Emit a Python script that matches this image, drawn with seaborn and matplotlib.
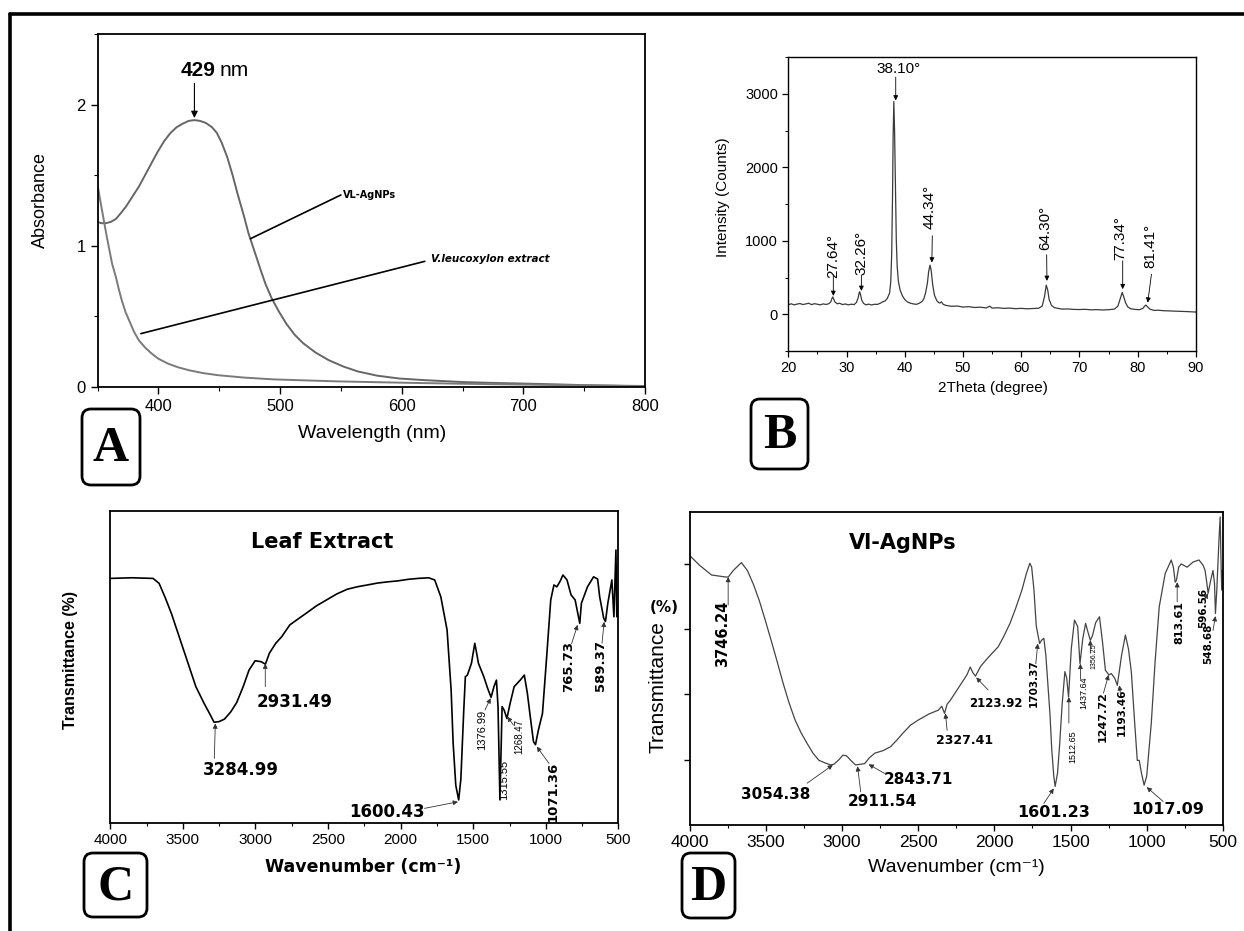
import matplotlib
matplotlib.use("Agg")
import matplotlib.pyplot as plt
import seaborn as sns
from matplotlib.patches import FancyBboxPatch
from matplotlib.lines import Line2D
from matplotlib.transforms import IdentityTransform
from matplotlib.ticker import MultipleLocator, NullLocator

# ---------------- data ----------------
# A: UV-vis
uv_wl_np = [350, 353, 357, 361, 365, 369, 373.5, 378, 384, 389, 394, 399, 404.6, 410, 415, 420,
            425, 429.6, 434, 439, 444, 448, 452, 456.5, 461, 465, 470, 474, 479, 484, 488, 493,
            499, 505, 512, 519, 529, 540, 552, 564, 580, 598, 620, 650, 675, 702, 730, 754,
            780, 800]
uv_abs_np = [1.17, 1.16, 1.16, 1.17, 1.19, 1.23, 1.28, 1.34, 1.42, 1.50, 1.58, 1.66, 1.74, 1.80,
             1.84, 1.865, 1.885, 1.89, 1.885, 1.87, 1.84, 1.80, 1.73, 1.63, 1.50, 1.37, 1.22,
             1.09, 0.96, 0.83, 0.73, 0.63, 0.535, 0.45, 0.37, 0.31, 0.245, 0.19, 0.145, 0.11,
             0.08, 0.06, 0.048, 0.035, 0.029, 0.024, 0.018, 0.012, 0.009, 0.007]
uv_wl_ext = [350, 352, 354.5, 357, 359.7, 362, 365, 367.5, 370, 373, 377, 380, 384, 389, 394,
             400, 408, 416, 425.4, 437, 449.6, 470, 494.6, 520, 546.5, 580, 615.6, 650, 684.8,
             720, 753.9, 780, 800]
uv_abs_ext = [1.43, 1.33, 1.21, 1.09, 0.97, 0.87, 0.78, 0.69, 0.61, 0.53, 0.45, 0.39, 0.33,
              0.28, 0.24, 0.20, 0.165, 0.14, 0.118, 0.098, 0.083, 0.067, 0.054, 0.047, 0.040,
              0.034, 0.028, 0.023, 0.019, 0.015, 0.012, 0.008, 0.005]

# B: XRD
xrd_2theta = [20.0, 20.5, 21.0, 21.5, 22.0, 22.5, 23.0, 23.5, 24.0, 24.5, 25.0, 25.5, 26.0, 26.5,
              27.0, 27.3, 27.5, 27.64, 27.8, 28.0, 28.4, 28.8, 29.3, 29.8, 30.3, 30.8, 31.3, 31.7,
              32.0, 32.15, 32.26, 32.4, 32.6, 32.9, 33.3, 33.8, 34.3, 34.8, 35.3, 35.8, 36.2, 36.6,
              37.0, 37.4, 37.6, 37.75, 37.9, 38.0, 38.12, 38.25, 38.4, 38.55, 38.7, 38.9, 39.2,
              39.6, 40.0, 40.5, 41.0, 41.5, 42.0, 42.5, 43.0, 43.3, 43.6, 43.9, 44.1, 44.34, 44.55,
              44.8, 45.1, 45.5, 45.8, 46.0, 46.3, 46.6, 47.0, 47.5, 48.0, 49.0, 50.0, 51.0, 52.0,
              53.0, 54.0, 54.6, 55.0, 56.0, 57.0, 58.0, 59.0, 60.0, 61.0, 62.0, 63.0, 63.6, 64.0,
              64.3, 64.55, 64.8, 65.2, 65.7, 66.3, 67.0, 68.0, 69.0, 70.0, 71.0, 72.0, 73.0, 74.0,
              75.0, 76.0, 76.6, 77.0, 77.34, 77.6, 77.9, 78.3, 78.8, 79.5, 80.3, 80.9, 81.2, 81.41,
              81.7, 82.1, 82.8, 83.5, 84.5, 85.5, 86.5, 87.5, 88.5, 89.3, 90.0]
xrd_counts = [130, 142, 128, 138, 146, 132, 140, 150, 131, 144, 136, 128, 141, 133,
              145, 170, 215, 236, 205, 168, 142, 150, 132, 140, 128, 137, 131, 160,
              225, 285, 305, 270, 195, 150, 128, 138, 126, 136, 134, 150, 168, 180,
              215, 290, 450, 800, 1600, 2400, 2896, 2500, 1700, 1000, 650, 450, 330,
              250, 200, 165, 150, 140, 135, 150, 175, 215, 300, 430, 580, 668, 590,
              400, 260, 185, 160, 152, 168, 135, 122, 115, 108, 112, 98, 103, 92,
              96, 86, 110, 84, 88, 80, 84, 76, 80, 74, 78, 82, 110, 240,
              396, 330, 200, 120, 90, 80, 70, 72, 66, 64, 67, 60, 63, 58,
              62, 70, 110, 210, 296, 240, 160, 100, 75, 66, 62, 80, 110, 125,
              100, 70, 52, 55, 48, 45, 42, 38, 36, 32, 30]
xrd_peak_labels = ["27.64°", "32.26°", "38.10°", "44.34°", "64.30°", "77.34°", "81.41°"]

# C: FTIR leaf extract
ftir_leaf_wn = [4000, 3850, 3705, 3663, 3620, 3578, 3494, 3410, 3353, 3310, 3285, 3250, 3213,
                3170, 3129, 3085, 3044, 3002, 2960, 2931, 2904, 2860, 2819, 2763, 2700, 2651,
                2580, 2510, 2440, 2369, 2300, 2229, 2160, 2088, 2020, 1948, 1880, 1807, 1765,
                1723, 1680, 1652, 1638, 1620, 1600, 1585, 1566, 1554, 1540, 1512, 1489, 1475,
                1464, 1427, 1400, 1377, 1357, 1340, 1329, 1316, 1301, 1287, 1268, 1246, 1218,
                1176, 1148, 1127, 1107, 1085, 1071, 1051, 1023, 994, 966, 944, 924, 900, 882,
                854, 826, 798, 766, 755, 713, 671, 643, 629, 601, 589, 573, 545, 531, 517, 511,
                505, 500]
ftir_leaf_t = [78.3, 78.5, 78.3, 76.7, 72, 67, 55.3, 43.6, 38.2, 34.5, 32.2, 32.4, 33.2,
               35.5, 38.5, 43.5, 48.9, 51.9, 51.6, 50.8, 54.3, 57.5, 59.6, 63.4, 65.5, 67.1,
               69.5, 71.4, 73.3, 74.8, 75.6, 76.2, 76.8, 77.2, 77.5, 78, 78.3, 78.5, 77.8,
               72.4, 61.8, 42.5, 25.4, 12, 7.3, 14, 35, 46.8, 47.3, 51.1, 57.5, 54,
               51.1, 46.8, 43, 40.2, 43.6, 45.7, 37.2, 7.3, 37.2, 36.1, 33.4, 38.2, 43.6,
               45.7, 47.3, 41.5, 34, 26, 25, 29.7, 35, 53.2, 71.4, 76.2, 75.6, 77.5, 79.4,
               77.8, 73, 71.4, 63.9, 70.3, 75.6, 78.8, 78.1, 72.4, 65.5, 64.5, 70.3, 77.8, 66, 87.4, 66,
               70, 68]

# D: FTIR VL-AgNPs
ftir_np_wn = [4000, 3935, 3856, 3765, 3746, 3713, 3660, 3621, 3580, 3543, 3505, 3465, 3425,
              3386, 3347, 3308, 3270, 3229, 3190, 3151, 3110, 3073, 3054, 3020, 2994, 2970,
              2942, 2911, 2880, 2851, 2820, 2785, 2730, 2681, 2640, 2603, 2550, 2498, 2430,
              2367, 2345, 2327, 2310, 2289, 2250, 2211, 2180, 2158, 2140, 2124, 2090, 2054,
              2015, 1975, 1940, 1897, 1860, 1819, 1790, 1767, 1755, 1740, 1725, 1703, 1690,
              1675, 1662, 1649, 1635, 1623, 1610, 1601, 1585, 1571, 1555, 1537, 1525, 1513,
              1495, 1474, 1453, 1438, 1420, 1401, 1385, 1370, 1356, 1335, 1310, 1290, 1271,
              1248, 1232, 1210, 1193, 1165, 1140, 1120, 1101, 1080, 1062, 1049, 1035, 1017,
              1000, 970, 945, 918, 879, 839, 825, 813, 805, 790, 774, 735, 695, 657, 630, 617,
              605, 597, 580, 565, 555, 549, 540, 526, 518, 512, 508, 503, 500]
ftir_np_t = [4.13, 3.98, 3.83, 3.80, 3.80, 3.90, 4.02, 3.90, 3.68, 3.44, 3.15, 2.83, 2.50,
             2.17, 1.87, 1.61, 1.42, 1.25, 1.10, 0.99, 0.95, 0.92, 0.93, 1.00, 1.07, 1.06,
             0.99, 0.92, 0.93, 0.94, 1.03, 1.10, 1.14, 1.20, 1.30, 1.40, 1.53, 1.61, 1.70,
             1.76, 1.82, 1.71, 1.85, 1.91, 2.05, 2.19, 2.30, 2.42, 2.33, 2.28, 2.43, 2.53,
             2.63, 2.73, 2.88, 3.09, 3.32, 3.60, 3.85, 4.01, 3.95, 3.60, 3.05, 2.78, 2.83,
             2.86, 2.60, 2.17, 1.70, 1.15, 0.75, 0.59, 0.80, 1.25, 1.85, 2.35, 2.25, 1.96,
             2.70, 3.14, 3.04, 2.47, 2.85, 3.09, 2.95, 2.83, 2.90, 3.10, 3.19, 2.80, 2.37,
             2.30, 2.32, 2.25, 2.14, 2.60, 2.91, 2.70, 2.35, 1.60, 0.99, 0.99, 0.80, 0.61,
             0.75, 1.56, 2.50, 3.34, 3.85, 4.06, 3.95, 3.72, 3.75, 3.95, 4.00, 3.95, 4.03, 4.06, 3.98, 3.90,
             3.70, 3.55, 3.75, 3.90, 3.70, 3.24, 3.60, 4.36, 4.72, 4.00, 3.60, 3.90, 3.80]

# ---------------- figure ----------------
sns.set_theme(style="ticks")
plt.rcParams["font.family"] = ["Liberation Sans", "DejaVu Sans"]
plt.rcParams["axes.edgecolor"] = "black"
plt.rcParams["text.color"] = "black"
plt.rcParams["axes.labelcolor"] = "black"
plt.rcParams["xtick.color"] = "black"
plt.rcParams["ytick.color"] = "black"

W, H = 1244, 931
fig = plt.figure(figsize=(W / 100, H / 100), dpi=100)


def fx(px):
    return px / W


def fy(py):
    return 1 - py / H


def axes_px(l, t, r, b):
    return [fx(l), fy(b), (r - l) / W, (b - t) / H]


def arrow(ax, tail, head, lw=0.7, ms=8, color="black"):
    ax.annotate("", xy=head, xytext=tail,
                arrowprops=dict(arrowstyle="-|>", color=color, lw=lw, mutation_scale=ms,
                                shrinkA=0, shrinkB=0))


def place_labels(ax, xpos, ypos):
    ax.xaxis.set_label_coords(fx(xpos[0]), fy(xpos[1]), transform=fig.transFigure)
    ax.yaxis.set_label_coords(fx(ypos[0]), fy(ypos[1]), transform=fig.transFigure)
    ax.xaxis.label.set_va("center")
    ax.yaxis.label.set_va("center")


# outer frame (only top and left edges visible)
fig.add_artist(Line2D([fx(10), fx(10)], [0, fy(14)], color="black", lw=2.6))
fig.add_artist(Line2D([fx(10), 1], [fy(14), fy(14)], color="black", lw=2.6))

# ---- A ----
axA = fig.add_axes(axes_px(97.6, 34, 645, 387))
sns.lineplot(x=uv_wl_np, y=uv_abs_np, ax=axA, color="#666666", lw=1.4, estimator=None)
sns.lineplot(x=uv_wl_ext, y=uv_abs_ext, ax=axA, color="#7a7a7a", lw=1.4, estimator=None)
axA.set_xlim(350, 800)
axA.set_ylim(0, 2.5)
axA.xaxis.set_major_locator(MultipleLocator(100))
axA.xaxis.set_minor_locator(MultipleLocator(50))
axA.yaxis.set_major_locator(MultipleLocator(1))
axA.yaxis.set_minor_locator(MultipleLocator(0.5))
axA.tick_params(which="major", length=5, width=1, labelsize=12, direction="out")
axA.tick_params(which="minor", length=3, width=0.8, direction="out")
for s in axA.spines.values():
    s.set_linewidth(1.3)
axA.set_xlabel("Wavelength (nm)", fontsize=14)
axA.set_ylabel("Absorbance", fontsize=13)
place_labels(axA, (372.5, 433), (40, 200))
arrow(axA, (429.6, 2.15), (429.6, 1.905), lw=0.8, ms=10)
axA.text(447, 2.24, "429", fontsize=15, fontweight="bold", ha="right", va="center")
axA.text(450, 2.24, "nm", fontsize=15, ha="left", va="center")
axA.plot([475.6, 550], [1.05, 1.36], color="black", lw=1.2)
axA.text(552, 1.36, "VL-AgNPs", fontsize=7, fontweight="bold", ha="left", va="center",
         family="DejaVu Sans")
axA.plot([385.6, 619], [0.378, 0.89], color="black", lw=1.2)
axA.text(624, 0.905, "V.leucoxylon extract", fontsize=7.5, fontweight="bold", style="italic",
         ha="left", va="center", family="DejaVu Sans")

# ---- B ----
axB = fig.add_axes(axes_px(788.3, 57, 1195.9, 351))
sns.lineplot(x=xrd_2theta, y=xrd_counts, ax=axB, color="#3a3a3a", lw=0.9, estimator=None)
axB.set_xlim(20, 90)
axB.set_ylim(-500, 3500)
axB.xaxis.set_major_locator(MultipleLocator(10))
axB.xaxis.set_minor_locator(MultipleLocator(5))
axB.set_yticks([0, 1000, 2000, 3000])
axB.yaxis.set_minor_locator(MultipleLocator(500))
axB.tick_params(which="major", length=4, width=0.9, labelsize=10.5, direction="out")
axB.tick_params(which="minor", length=2.5, width=0.7, direction="out")
for s in axB.spines.values():
    s.set_linewidth(1.0)
axB.set_xlabel("2Theta (degree)", fontsize=11)
axB.set_ylabel("Intensity (Counts)", fontsize=11)
place_labels(axB, (992.5, 388), (722.8, 197))
# peak labels: (text x, text y, rotation, tail, head)
b_ann = [(27.73, 795, 90, (27.73, 536), (27.73, 250)),
         (32.60, 832, 90, (32.55, 536), (32.55, 318)),
         (39.00, 3341, 0, (38.45, 3227), (38.45, 2909)),
         (44.33, 1454, 90, (44.73, 1068), (44.65, 704)),
         (64.08, 1173, 90, (64.37, 809), (64.42, 454)),
         (77.08, 1036, 90, (77.43, 727), (77.43, 341)),
         (82.18, 931, 90, (82.37, 545), (81.72, 158))]
for lab, (tx, ty, rot, tail, head) in zip(xrd_peak_labels, b_ann):
    axB.text(tx, ty, lab, rotation=rot, fontsize=11, ha="center", va="center")
    arrow(axB, tail, head, lw=0.6, ms=7)

# ---- C ----
axC = fig.add_axes(axes_px(110.2, 510.7, 618.4, 822.7))
sns.lineplot(x=ftir_leaf_wn, y=ftir_leaf_t, ax=axC, color="black", lw=1.2, estimator=None)
axC.set_xlim(4000, 500)
axC.set_ylim(0, 100)
axC.xaxis.set_major_locator(MultipleLocator(500))
axC.xaxis.set_minor_locator(MultipleLocator(250))
axC.yaxis.set_major_locator(NullLocator())
axC.tick_params(which="major", length=4, width=1, labelsize=11, direction="out")
axC.tick_params(which="minor", length=2.5, width=0.8, direction="out")
for s in axC.spines.values():
    s.set_linewidth(1.3)
axC.set_xlabel("Wavenumber (cm⁻¹)", fontsize=12.5, fontweight="bold", family="DejaVu Sans")
axC.set_ylabel("Transmittance (%)", fontsize=11.5, fontweight="bold")
place_labels(axC, (363, 867), (71, 660))
axC.text(2538, 90, "Leaf Extract", fontsize=15, fontweight="bold", family="DejaVu Sans",
         ha="center", va="center")
c_ann = [("3284.99", 3100, 16.9, 0, 12, "bold", (3283, 20.6), (3276, 31.8)),
         ("2931.49", 2729, 38.6, 0, 12, "bold", (2932, 43.6), (2932, 51.0)),
         ("1600.43", 2094, 3.5, 0, 12, "bold", (1835, 4.6), (1605, 6.7)),
         ("1376.99", 1442, 29.7, 90, 8, "normal", (1419, 36.1), (1380, 39.9)),
         ("1315.55", 1287, 13.7, 90, 8, "normal", None, None),
         ("1268.47", 1183, 27.6, 90, 7, "normal", (1223, 31.3), (1265, 34.0)),
         ("1071.36", 950, 9.9, 90, 9.5, "bold", (978, 19.0), (1062, 24.4)),
         ("765.73", 846, 50.0, 90, 9.5, "bold", (823, 57.3), (781, 63.4)),
         ("589.37", 621, 50.5, 90, 9.5, "bold", (613, 57.5), (598, 64.4))]
for lab, tx, ty, rot, fs, fw, tail, head in c_ann:
    axC.text(tx, ty, lab, rotation=rot, fontsize=fs, fontweight=fw, ha="center", va="center",
             family="DejaVu Sans" if fw == "bold" else None)
    if tail is not None:
        arrow(axC, tail, head, lw=0.6, ms=7, color="#333333")

# ---- D ----
axD = fig.add_axes(axes_px(689.6, 511.7, 1222.9, 825))
sns.lineplot(x=ftir_np_wn, y=ftir_np_t, ax=axD, color="#444444", lw=0.9, estimator=None)
axD.set_xlim(4000, 500)
axD.set_ylim(0, 4.8)
axD.xaxis.set_major_locator(MultipleLocator(500))
axD.xaxis.set_minor_locator(MultipleLocator(250))
axD.set_yticks([1, 2, 3, 4])
axD.set_yticklabels([])
axD.tick_params(which="major", length=4, width=1, labelsize=12.5, direction="out")
axD.tick_params(which="minor", length=2.5, width=0.8, direction="out")
for s in axD.spines.values():
    s.set_linewidth(1.3)
axD.set_xlabel("Wavenumber (cm⁻¹)", fontsize=14)
axD.set_ylabel("Transmittance", fontsize=15)
place_labels(axD, (956, 868), (657.8, 687))
fig.text(fx(663.8), fy(607), "(%)", fontsize=11, fontweight="bold", ha="center", va="center",
         family="DejaVu Sans")
axD.text(2603, 4.32, "Vl-AgNPs", fontsize=15, fontweight="bold", family="DejaVu Sans",
         ha="center", va="center")
d_ann = [("3746.24", 3783, 2.93, 90, 10.5, "bold", (3747, 3.37), (3747, 3.80)),
         ("3054.38", 3438, 0.46, 0, 11, "bold", (3229, 0.64), (3060, 0.92)),
         ("2911.54", 2733, 0.36, 0, 11, "bold", (2877, 0.51), (2898, 0.90)),
         ("2843.71", 2498, 0.69, 0, 11, "bold", (2720, 0.79), (2825, 0.93)),
         ("2327.41", 2198, 1.30, 0, 9, "bold", (2310, 1.45), (2321, 1.71)),
         ("2123.92", 1989, 1.86, 0, 8.5, "bold", (2041, 2.07), (2119, 2.26)),
         ("1703.37", 1741, 2.17, 90, 7.5, "bold", (1728, 2.47), (1715, 2.78)),
         ("1601.23", 1610, 0.19, 0, 11.5, "bold", (1675, 0.33), (1610, 0.56)),
         ("1512.65", 1485, 1.20, 90, 6.5, "normal", (1511, 1.56), (1511, 1.96)),
         ("1437.64", 1414, 2.02, 90, 6.5, "normal", (1435, 2.24), (1435, 2.47)),
         ("1356.25", 1349, 2.58, 90, 5, "normal", (1370, 2.63), (1370, 2.83)),
         ("1247.72", 1291, 1.66, 90, 8, "bold", (1284, 2.02), (1250, 2.30)),
         ("1193.46", 1161, 1.73, 90, 7.5, "bold", (1171, 1.99), (1180, 2.14)),
         ("1017.09", 866, 0.23, 0, 11.5, "bold", (892, 0.36), (1000, 0.58)),
         ("813.61", 787, 3.11, 90, 8, "bold", (800, 3.42), (800, 3.72)),
         ("596.56", 631, 3.32, 90, 7.5, "bold", (623, 3.44), (597, 3.55)),
         ("548.68", 597, 2.78, 90, 7.5, "bold", (565, 2.98), (549, 3.20))]
for lab, tx, ty, rot, fs, fw, tail, head in d_ann:
    axD.text(tx, ty, lab, rotation=rot, fontsize=fs, fontweight=fw, ha="center", va="center",
             family="DejaVu Sans" if fw == "bold" else None)
    arrow(axD, tail, head, lw=0.6, ms=7, color="#333333")

# ---- panel letters ----
boxes = [("A", 82, 409, 140, 485), ("B", 751, 399, 808, 469),
         ("C", 84, 853, 147, 917), ("D", 682, 853, 735, 918)]
for letter, l, t, r, b in boxes:
    fig.add_artist(FancyBboxPatch((l, H - b), r - l, b - t,
                                  boxstyle="round,pad=0,rounding_size=9",
                                  transform=IdentityTransform(), fc="white", ec="black", lw=2.0))
    fig.text(fx((l + r) / 2), fy((t + b) / 2 + 2), letter, fontsize=36, fontweight="bold",
             family="Liberation Serif", ha="center", va="center")

fig.savefig("out.png", dpi=100)
